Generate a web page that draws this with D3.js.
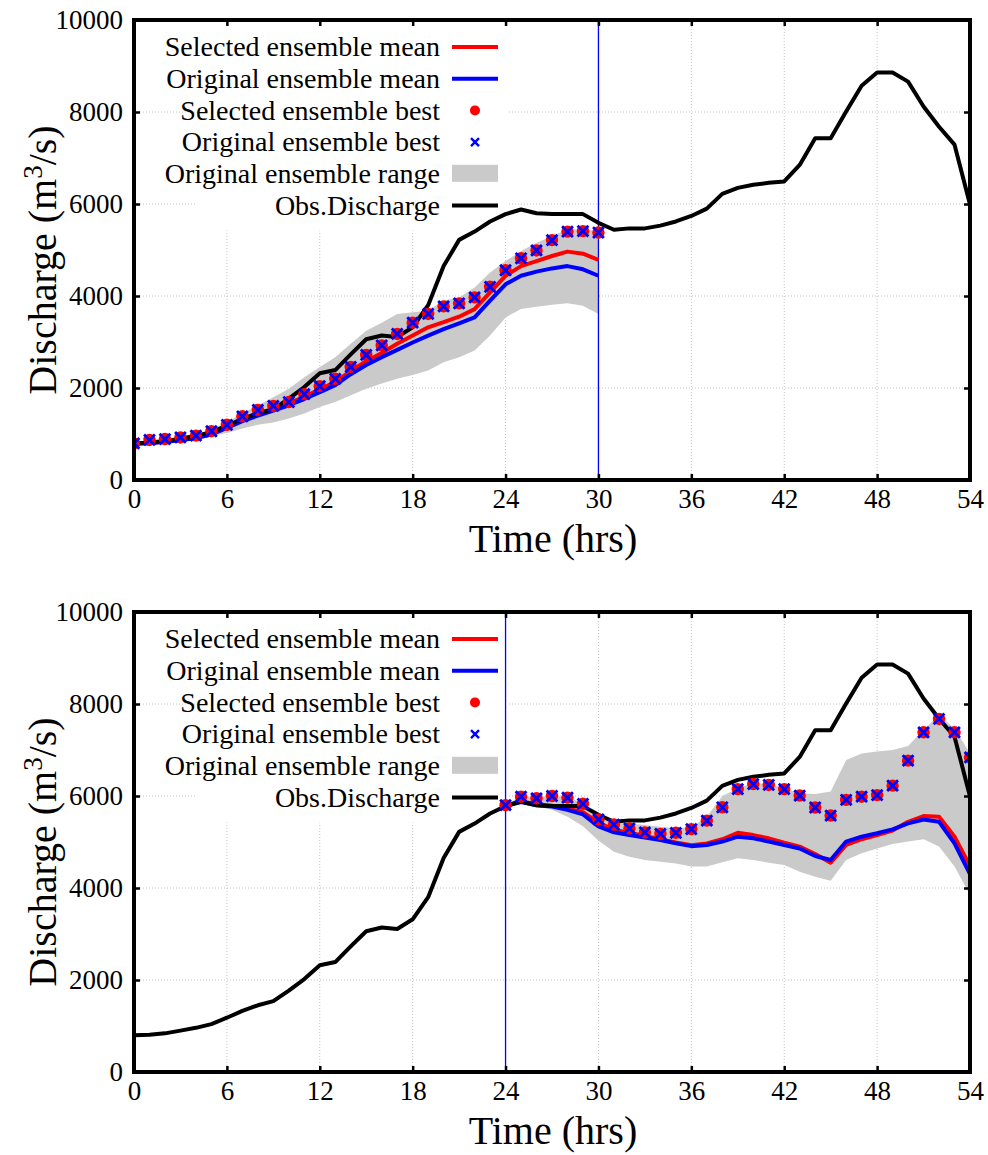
<!DOCTYPE html>
<html>
<head>
<meta charset="utf-8">
<script src="https://cdn.jsdelivr.net/npm/d3@7"></script>
<style>
  html, body { margin: 0; padding: 0; background: #fff; }
  svg { display: block; }
  svg text { font-family: "Liberation Serif", "Times New Roman", serif !important; fill: #000; }
</style>
</head>
<body>
<svg id="chart" width="988" height="1155"></svg>
<script>
// ---------------- DATA ----------------
const obsHours = [0,1,2,3,4,5,6,7,8,9,10,11,12,13,14,15,16,17,18,19,20,21,22,23,24,25,26,27,28,29,30,31,32,33,34,35,36,37,38,39,40,41,42,43,44,45,46,47,48,49,50,51,52,53,54];
const obsDischarge = [800,810,840,900,960,1040,1180,1330,1450,1540,1770,2020,2320,2390,2730,3060,3140,3110,3320,3800,4650,5220,5400,5620,5780,5880,5800,5780,5780,5780,5590,5440,5470,5470,5530,5620,5740,5900,6220,6350,6420,6460,6490,6850,7430,7430,8010,8570,8860,8860,8660,8120,7680,7290,5990];

// Panel 1: forecast starting at hour 0 (assimilation until hour 30)
const hoursA = [0,1,2,3,4,5,6,7,8,9,10,11,12,13,14,15,16,17,18,19,20,21,22,23,24,25,26,27,28,29,30];
const selMeanA = [795,805,835,870,920,1000,1145,1300,1420,1540,1665,1810,1970,2130,2370,2580,2760,2960,3140,3320,3430,3550,3715,4080,4440,4650,4760,4870,4965,4920,4785];
const origMeanA = [790,800,830,865,910,990,1130,1280,1400,1510,1625,1760,1910,2060,2300,2500,2670,2830,2990,3140,3280,3405,3535,3900,4255,4440,4530,4600,4650,4580,4440];
const selBestA = [795,870,890,925,965,1060,1200,1385,1525,1610,1695,1865,2040,2200,2460,2720,2925,3175,3420,3610,3775,3840,3970,4200,4560,4820,4990,5215,5400,5410,5380];
const origBestA = [795,870,890,925,965,1060,1200,1385,1525,1610,1695,1865,2040,2200,2460,2720,2925,3175,3420,3610,3775,3840,3970,4200,4560,4820,4990,5215,5400,5410,5380];
const rangeLowA = [790,795,820,850,880,950,1020,1120,1200,1250,1335,1445,1585,1695,1840,1985,2100,2200,2280,2380,2560,2670,2815,3140,3535,3715,3765,3810,3840,3790,3610];
const rangeHighA = [800,880,900,940,990,1100,1260,1450,1620,1800,1985,2235,2455,2670,2960,3245,3420,3610,3645,3680,3900,3970,4185,4510,4760,4980,5160,5300,5450,5450,5410];
const splitA = 30;

// Panel 2: forecast from hour 24 to 54
const hoursB = [24,25,26,27,28,29,30,31,32,33,34,35,36,37,38,39,40,41,42,43,44,45,46,47,48,49,50,51,52,53,54];
const selMeanB = [5790,5880,5820,5790,5730,5650,5420,5260,5200,5130,5060,4990,4930,4970,5060,5200,5150,5080,4985,4900,4740,4550,4935,5060,5150,5250,5440,5565,5550,5115,4480];
const origMeanB = [5790,5870,5800,5770,5700,5600,5340,5210,5150,5100,5045,4970,4910,4935,5010,5115,5080,5010,4935,4860,4695,4610,5010,5115,5190,5275,5405,5490,5440,4970,4300];
const selBestB = [5800,5985,5950,6000,5965,5830,5490,5380,5295,5210,5175,5200,5280,5465,5755,6150,6260,6240,6150,6010,5750,5575,5915,5985,6020,6225,6770,7385,7675,7385,6840];
const origBestB = [5800,5985,5950,6000,5965,5830,5490,5380,5295,5210,5175,5200,5280,5465,5755,6150,6260,6240,6150,6010,5750,5575,5915,5985,6020,6225,6770,7385,7675,7385,6840];
const rangeLowB = [5790,5850,5770,5700,5550,5340,5030,4790,4680,4610,4570,4535,4465,4465,4560,4645,4610,4550,4500,4355,4245,4160,4610,4755,4860,4955,5010,5060,4900,4465,3850];
const rangeHighB = [5800,6000,5980,6010,5980,5850,5520,5420,5400,5370,5330,5300,5320,5550,6000,6170,6280,6260,6170,6060,6045,6100,6780,6925,6965,7000,7085,7435,7760,7470,6930];
const splitB = 24;

const xTicks = [0,6,12,18,24,30,36,42,48,54];
const yTicks = [0,2000,4000,6000,8000,10000];
const legendLabels = ["Selected ensemble mean","Original ensemble mean","Selected ensemble best","Original ensemble best","Original ensemble range","Obs.Discharge"];
const xTitle = "Time (hrs)";

// ---------------- DRAW ----------------
const svg = d3.select("#chart");
const L = 134, R = 970;
const x = d3.scaleLinear().domain([0, 54]).range([L, R]);

const RED = "#ff0000", BLUE = "#0000ff", GREY = "#cacaca";
const SERIF = "'Liberation Serif', 'Times New Roman', serif";

function panel(idx, top, bottom, hrs, selMean, origMean, selBest, origBest, lo, hi, split) {
  const y = d3.scaleLinear().domain([0, 10000]).range([bottom, top]);
  const g = svg.append("g");
  const clipId = "clip" + idx;
  svg.append("defs").append("clipPath").attr("id", clipId)
    .append("rect").attr("x", L).attr("y", top).attr("width", R - L).attr("height", bottom - top);

  // grid
  const grid = g.append("g");
  grid.selectAll(".vg").data(xTicks.slice(1, -1)).join("line")
    .attr("x1", d => x(d)).attr("x2", d => x(d)).attr("y1", top).attr("y2", bottom)
    .attr("stroke", "#c4c4c4").attr("stroke-width", 1).attr("stroke-dasharray", "1,2");
  grid.selectAll(".hg").data(yTicks.slice(1, -1)).join("line")
    .attr("x1", L).attr("x2", R).attr("y1", d => y(d)).attr("y2", d => y(d))
    .attr("stroke", "#c4c4c4").attr("stroke-width", 1).attr("stroke-dasharray", "1,2");

  // legend background (opaque key box)
  const rowY0 = top + 27, rowDy = 31.7;
  g.append("rect").attr("x", 197).attr("y", top + 2).attr("width", 311).attr("height", rowY0 + 5 * rowDy + 25 - top - 2)
    .attr("fill", "#fff");

  const plot = g.append("g").attr("clip-path", `url(#${clipId})`);
  const ens = hrs.map((h, i) => ({h, selMean: selMean[i], origMean: origMean[i], selBest: selBest[i], origBest: origBest[i], lo: lo[i], hi: hi[i]}));

  plot.append("path").datum(ens)
    .attr("d", d3.area().x(d => x(d.h)).y0(d => y(d.lo)).y1(d => y(d.hi)))
    .attr("fill", GREY);

  // split line
  plot.append("line").attr("x1", x(split)).attr("x2", x(split)).attr("y1", top).attr("y2", bottom)
    .attr("stroke", BLUE).attr("stroke-width", 1.3);

  plot.append("path").datum(ens)
    .attr("d", d3.line().x(d => x(d.h)).y(d => y(d.selMean)))
    .attr("fill", "none").attr("stroke", RED).attr("stroke-width", 4).attr("stroke-linejoin", "round");
  plot.append("path").datum(ens)
    .attr("d", d3.line().x(d => x(d.h)).y(d => y(d.origMean)))
    .attr("fill", "none").attr("stroke", BLUE).attr("stroke-width", 4).attr("stroke-linejoin", "round");

  const obs = obsHours.map((h, i) => ({h, v: obsDischarge[i]}));
  plot.append("path").datum(obs)
    .attr("d", d3.line().x(d => x(d.h)).y(d => y(d.v)))
    .attr("fill", "none").attr("stroke", "#000").attr("stroke-width", 4).attr("stroke-linejoin", "round");

  plot.selectAll(".dot").data(ens).join("circle")
    .attr("cx", d => x(d.h)).attr("cy", d => y(d.selBest)).attr("r", 6.2).attr("fill", RED);
  const s = 5.4;
  plot.selectAll(".cross").data(ens).join("path")
    .attr("d", d => `M${x(d.h)-s},${y(d.origBest)-s}L${x(d.h)+s},${y(d.origBest)+s}M${x(d.h)-s},${y(d.origBest)+s}L${x(d.h)+s},${y(d.origBest)-s}`)
    .attr("stroke", BLUE).attr("stroke-width", 2.8).attr("fill", "none");

  // axes
  const ax = g.append("g").attr("transform", `translate(0,${bottom})`)
    .call(d3.axisBottom(x).tickValues(xTicks).tickSize(-6).tickPadding(9).tickFormat(d3.format("d")));
  const ay = g.append("g").attr("transform", `translate(${L},0)`)
    .call(d3.axisLeft(y).tickValues(yTicks).tickSize(-6).tickPadding(11).tickFormat(d3.format("d")));
  const at = g.append("g").attr("transform", `translate(0,${top})`)
    .call(d3.axisTop(x).tickValues(xTicks).tickSize(-6).tickFormat(""));
  const ar = g.append("g").attr("transform", `translate(${R},0)`)
    .call(d3.axisRight(y).tickValues(yTicks).tickSize(-6).tickFormat(""));
  [ax, ay, at, ar].forEach(a => {
    a.attr("font-family", null).attr("font-size", null);
    a.select(".domain").remove();
    a.selectAll("line").attr("stroke", "#000").attr("stroke-width", 2.5);
    a.selectAll("text").style("font-family", SERIF).style("font-size", "27px").attr("fill", "#000");
  });

  // frame
  g.append("rect").attr("x", L).attr("y", top).attr("width", R - L).attr("height", bottom - top)
    .attr("fill", "none").attr("stroke", "#000").attr("stroke-width", 4);

  // legend
  const lg = g.append("g");
  legendLabels.forEach((lab, i) => {
    const ry = rowY0 + i * rowDy;
    lg.append("text").attr("x", 440).attr("y", ry).attr("dy", "0.33em").attr("text-anchor", "end")
      .style("font-family", SERIF).style("font-size", "28px").text(lab);
    if (i === 0 || i === 1 || i === 5) {
      lg.append("line").attr("x1", 452).attr("x2", 498).attr("y1", ry).attr("y2", ry)
        .attr("stroke", i === 0 ? RED : i === 1 ? BLUE : "#000").attr("stroke-width", 4);
    } else if (i === 2) {
      lg.append("circle").attr("cx", 475).attr("cy", ry).attr("r", 5).attr("fill", RED);
    } else if (i === 3) {
      const k = 4;
      lg.append("path").attr("d", `M${475-k},${ry-k}L${475+k},${ry+k}M${475-k},${ry+k}L${475+k},${ry-k}`)
        .attr("stroke", BLUE).attr("stroke-width", 2.4);
    } else if (i === 4) {
      lg.append("rect").attr("x", 452).attr("y", ry - 9).attr("width", 46).attr("height", 17).attr("fill", GREY);
    }
  });

  // axis titles
  g.append("text").attr("x", 553).attr("y", bottom + 72).attr("text-anchor", "middle")
    .style("font-family", SERIF).style("font-size", "40px").text(xTitle);
  const yt = g.append("text").attr("transform", `translate(56,${(top + bottom) / 2 + 10}) rotate(-90)`)
    .attr("text-anchor", "middle").style("font-family", SERIF).style("font-size", "40px");
  yt.append("tspan").text("Discharge (m");
  yt.append("tspan").style("font-size", "27px").attr("dy", "-14").text("3");
  yt.append("tspan").attr("dy", "14").text("/s)");
}

panel(0, 20, 480, hoursA, selMeanA, origMeanA, selBestA, origBestA, rangeLowA, rangeHighA, splitA);
panel(1, 612, 1072, hoursB, selMeanB, origMeanB, selBestB, origBestB, rangeLowB, rangeHighB, splitB);
</script>
</body>
</html>
